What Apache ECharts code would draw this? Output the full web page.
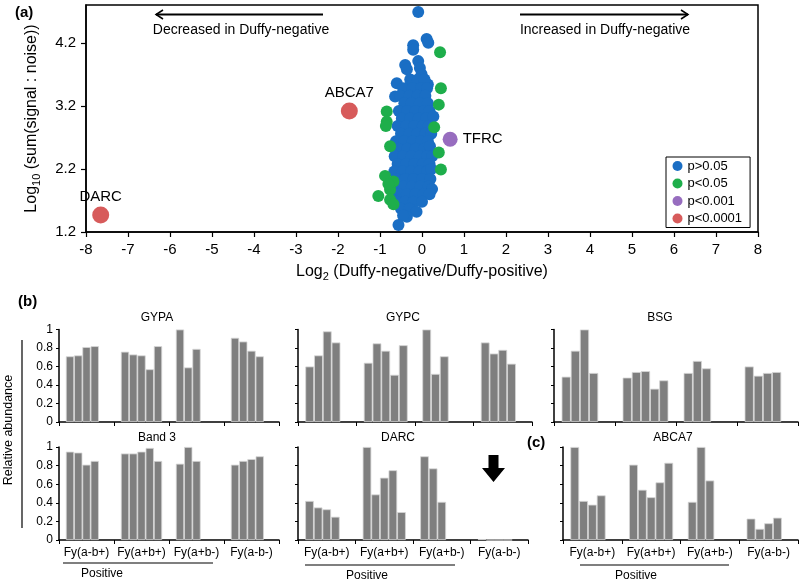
<!DOCTYPE html>
<html>
<head>
<meta charset="utf-8">
<script src="https://cdn.jsdelivr.net/npm/echarts@6/dist/echarts.min.js"></script>
<style>
  html, body { margin: 0; padding: 0; background: #fff; }
  #chart { width: 799px; height: 581px; }
</style>
</head>
<body>
<div id="chart"></div>
<script>
// ---- panel (a): volcano-like scatter ----
const bluePts = [
  [-0.09, 4.69], [0.11, 4.26], [0.15, 4.20], [-0.21, 4.16], [-0.21, 4.09],
  [-0.40, 3.85], [-0.36, 3.78], [-0.09, 3.91], [-0.05, 3.80], [-0.01, 3.70],
  [-0.60, 3.56], [-0.33, 3.49], [0.14, 3.54], [-0.64, 3.35],
  [-0.28, 3.62], [-0.10, 3.62], [0.06, 3.62],
  [-0.45, 3.48], [-0.22, 3.48], [-0.02, 3.48], [0.12, 3.48],
  [-0.52, 3.36], [-0.30, 3.36], [-0.10, 3.36], [0.08, 3.36],
  [-0.42, 3.24], [-0.25, 3.24], [-0.05, 3.24], [0.14, 3.24],
  [-0.55, 3.12], [-0.35, 3.12], [-0.15, 3.12], [0.05, 3.12], [0.18, 3.12],
  [-0.48, 3.00], [-0.28, 3.00], [-0.08, 3.00], [0.10, 3.00], [0.27, 3.03],
  [-0.58, 2.88], [-0.38, 2.88], [-0.18, 2.88], [0.02, 2.88], [0.16, 2.88],
  [-0.50, 2.76], [-0.30, 2.76], [-0.12, 2.76], [0.08, 2.76], [0.22, 2.76],
  [-0.62, 2.64], [-0.42, 2.64], [-0.22, 2.64], [-0.02, 2.64], [0.14, 2.64],
  [-0.55, 2.52], [-0.35, 2.52], [-0.15, 2.52], [0.05, 2.52], [0.19, 2.56],
  [-0.65, 2.40], [-0.45, 2.40], [-0.25, 2.40], [-0.05, 2.40], [0.12, 2.40], [0.24, 2.40],
  [-0.58, 2.28], [-0.38, 2.28], [-0.18, 2.28], [0.02, 2.28], [0.18, 2.28],
  [-0.66, 2.16], [-0.46, 2.16], [-0.26, 2.16], [-0.06, 2.16], [0.12, 2.16], [0.22, 2.20],
  [-0.60, 2.04], [-0.40, 2.04], [-0.20, 2.04], [0.00, 2.04], [0.20, 2.04],
  [-0.62, 1.92], [-0.44, 1.92], [-0.24, 1.92], [-0.04, 1.92], [0.16, 1.92], [0.24, 1.88],
  [-0.55, 1.80], [-0.36, 1.80], [-0.16, 1.80], [0.04, 1.80], [0.18, 1.80],
  [-0.60, 1.68], [-0.40, 1.68], [-0.20, 1.68], [0.00, 1.68],
  [-0.50, 1.57], [-0.30, 1.57], [-0.13, 1.52],
  [-0.36, 1.44], [-0.45, 1.46], [-0.56, 1.31]
];
const greenPts = [
  [0.43, 4.05], [0.45, 3.48], [0.40, 3.22], [0.29, 2.86], [0.40, 2.46], [0.45, 2.19],
  [-0.84, 3.11], [-0.84, 2.95], [-0.86, 2.88], [-0.76, 2.56], [-0.88, 2.09],
  [-0.68, 2.00], [-0.76, 1.87], [-1.04, 1.77], [-0.76, 1.71], [-0.68, 1.64], [-0.80, 1.96]
];
const purplePts = [[0.67, 2.67]];
const purpleNames = ['TFRC'];
const redPts = [[-7.65, 1.47], [-1.73, 3.12]];
const redNames = ['DARC', 'ABCA7'];
const pLevels = ['p>0.05', 'p<0.05', 'p<0.001', 'p<0.0001'];

// ---- panels (b),(c): relative abundance per donor, grouped by phenotype ----
const groups = ['Fy(a-b+)', 'Fy(a+b+)', 'Fy(a+b-)', 'Fy(a-b-)'];
const gypaVals = [[0.71, 0.72, 0.81, 0.82], [0.76, 0.73, 0.72, 0.57, 0.82], [1.0, 0.59, 0.79], [0.91, 0.87, 0.77, 0.71]];
const gypcVals = [[0.60, 0.72, 0.98, 0.86], [0.64, 0.85, 0.77, 0.51, 0.83], [1.0, 0.52, 0.71], [0.86, 0.74, 0.78, 0.63]];
const bsgVals  = [[0.49, 0.77, 1.0, 0.53], [0.48, 0.54, 0.55, 0.36, 0.45], [0.53, 0.66, 0.58], [0.60, 0.50, 0.53, 0.54]];
const band3Vals = [[0.95, 0.94, 0.81, 0.85], [0.93, 0.93, 0.95, 0.99, 0.85], [0.82, 1.0, 0.85], [0.81, 0.85, 0.87, 0.90]];
const darcVals = [[0.42, 0.35, 0.33, 0.25], [1.0, 0.49, 0.67, 0.75, 0.30], [0.90, 0.77, 0.41], [0.01, 0, 0, 0]];
const abca7Vals = [[1.0, 0.42, 0.38, 0.48], [0.81, 0.54, 0.46, 0.62, 0.83], [0.41, 1.0, 0.64], [0.23, 0.12, 0.18, 0.24]];

const FONT = 'Liberation Sans, Arial, sans-serif';
const BAR = '#7f7f7f';
const colors = ['#1a6ec4', '#1eae4b', '#976dbf', '#d75b5b'];

const chart = echarts.init(document.getElementById('chart'));

const grids = [{ left: 86, top: 5, width: 672, height: 227, show: true, borderColor: '#000', borderWidth: 1.5 }];
const xAxes = [{
  gridIndex: 0, type: 'value', min: -8, max: 8, interval: 1,
  axisLine: { onZero: false, lineStyle: { color: '#000', width: 1.5 } },
  axisTick: { length: 5, lineStyle: { color: '#000', width: 1.2 } },
  axisLabel: { color: '#000', fontSize: 15, fontFamily: FONT, margin: 10 },
  splitLine: { show: false },
  name: 'Log{s|2} (Duffy-negative/Duffy-positive)', nameLocation: 'middle', nameGap: 30,
  nameTextStyle: { color: '#000', fontSize: 16, fontFamily: FONT, rich: { s: { fontSize: 11, fontFamily: FONT, padding: [9, 0, 0, 0] } } }
}];
const yAxes = [{
  gridIndex: 0, type: 'value', min: 1.2, max: 4.8, interval: 1,
  axisLine: { onZero: false, lineStyle: { color: '#000', width: 1.5 } },
  axisTick: { length: 5, lineStyle: { color: '#000', width: 1.2 } },
  axisLabel: { color: '#000', fontSize: 15, fontFamily: FONT, margin: 10, showMaxLabel: false,
    formatter: v => (Math.round(v * 10) / 10).toFixed(1) },
  splitLine: { show: false },
  name: 'Log{s|10} (sum(signal : noise))', nameLocation: 'middle', nameGap: 44,
  nameTextStyle: { color: '#000', fontSize: 16, fontFamily: FONT, rich: { s: { fontSize: 11, fontFamily: FONT, padding: [9, 0, 0, 0] } } }
}];

const series = [
  { name: pLevels[0], type: 'scatter', data: bluePts, symbolSize: 12, itemStyle: { color: colors[0], opacity: 1 } },
  { name: pLevels[1], type: 'scatter', data: greenPts, symbolSize: 12, itemStyle: { color: colors[1], opacity: 1 } },
  { name: pLevels[2], type: 'scatter', symbolSize: 15, itemStyle: { color: colors[2], opacity: 1 },
    data: purplePts.map((p, i) => ({ value: p, name: purpleNames[i] })),
    label: { show: true, position: 'right', distance: 5, formatter: '{b}', color: '#000', fontSize: 15, fontFamily: FONT } },
  { name: pLevels[3], type: 'scatter', symbolSize: 17, itemStyle: { color: colors[3], opacity: 1 },
    data: redPts.map((p, i) => ({ value: p, name: redNames[i] })),
    label: { show: true, position: 'top', distance: 2, formatter: '{b}', color: '#000', fontSize: 15, fontFamily: FONT } }
];

const panels = [
  { vals: gypaVals,  box: [59, 329.5, 220, 92.5],  yLab: true,  xLab: false },
  { vals: gypcVals,  box: [298, 329.5, 234, 92.5], yLab: false, xLab: false },
  { vals: bsgVals,   box: [554, 329.5, 244, 92.5], yLab: false, xLab: false },
  { vals: band3Vals, box: [59, 447, 220, 93],      yLab: true,  xLab: true },
  { vals: darcVals,  box: [298, 447, 230, 93],     yLab: false, xLab: true },
  { vals: abca7Vals, box: [563, 447, 235, 93],     yLab: false, xLab: true }
];
const panelTitles = [['GYPA', 157, 318], ['GYPC', 403, 318], ['BSG', 660, 318],
                     ['Band 3', 157, 438], ['DARC', 398, 438], ['ABCA7', 673, 438]];

panels.forEach((p, i) => {
  const gi = i + 1;
  grids.push({ left: p.box[0], top: p.box[1], width: p.box[2], height: p.box[3] });
  xAxes.push({
    gridIndex: gi, type: 'category', data: groups,
    axisLine: { lineStyle: { color: '#000', width: 1.5 } },
    axisTick: { show: true, length: 4, interval: 0, lineStyle: { color: '#000' } },
    axisLabel: { show: p.xLab, interval: 0, color: '#000', fontSize: 12, fontFamily: FONT, margin: 7 }
  });
  yAxes.push({
    gridIndex: gi, type: 'value', min: 0, max: 1, interval: 0.2,
    axisLine: { show: true, lineStyle: { color: '#000', width: 1.5 } },
    axisTick: { show: true, length: 3, lineStyle: { color: '#000' } },
    axisLabel: { show: p.yLab, color: '#000', fontSize: 12, fontFamily: FONT, margin: 6 },
    splitLine: { show: false }
  });
  for (let k = 0; k < 5; k++) {
    series.push({
      type: 'bar', xAxisIndex: gi, yAxisIndex: gi, silent: true,
      data: p.vals.map(g => (g[k] === undefined ? '-' : g[k])),
      barGap: '0%', barCategoryGap: '25%',
      itemStyle: { color: BAR, borderColor: '#d6d6d6', borderWidth: 0.8 }
    });
  }
});

const txt = (text, x, y, size, extra, rot) => ({
  type: 'text', x, y, rotation: rot || 0, silent: true,
  style: Object.assign({ text, fill: '#000', fontSize: size, fontFamily: FONT, align: 'center', verticalAlign: 'middle' }, extra || {})
});
const ln = (x1, y1, x2, y2, w) => ({
  type: 'line', silent: true, shape: { x1, y1, x2, y2 }, style: { stroke: '#000', lineWidth: w || 1.2 }
});
const head = (pts) => ({ type: 'polyline', silent: true, shape: { points: pts }, style: { stroke: '#000', lineWidth: 1.5, fill: null } });

const graphics = [
  txt('(a)', 15, 13, 15, { align: 'left', fontWeight: 'bold' }),
  txt('(b)', 18, 302, 15, { align: 'left', fontWeight: 'bold' }),
  txt('(c)', 527, 443, 15, { align: 'left', fontWeight: 'bold' }),
  // direction arrows
  ln(156, 14.5, 323, 14.5, 2), head([[163, 10], [156, 14.5], [163, 19]]),
  ln(520, 14.5, 688, 14.5, 2), head([[681, 10], [688, 14.5], [681, 19]]),
  txt('Decreased in Duffy-negative', 241, 30, 14),
  txt('Increased in Duffy-negative', 605, 30, 14),
  // shared y title for bar panels
  txt('Relative abundance', 9, 430, 12.5, null, Math.PI / 2),
  ln(22, 340, 22, 528, 1.2),
  // "Positive" brackets
  ln(63, 563, 213, 563, 1.2), txt('Positive', 102, 574, 12),
  ln(305, 565, 455, 565, 1.2), txt('Positive', 367, 576, 12),
  ln(580, 565, 729, 565, 1.2), txt('Positive', 636, 576, 12),
  // DARC absent in Fy(a-b-)
  { type: 'polygon', silent: true,
    shape: { points: [[488.5, 455], [498.5, 455], [498.5, 468], [505, 468], [493.5, 482], [482, 468], [488.5, 468]] },
    style: { fill: '#000' } }
];
panelTitles.forEach(t => graphics.push(txt(t[0], t[1], t[2], 12)));

chart.setOption({
  animation: false,
  textStyle: { fontFamily: FONT },
  grid: grids,
  xAxis: xAxes,
  yAxis: yAxes,
  legend: {
    data: pLevels, orient: 'vertical', left: 666, top: 157,
    icon: 'circle', itemWidth: 10, itemHeight: 10, itemGap: 2.5,
    padding: [1.5, 8, 1.5, 6.5], borderColor: '#000', borderWidth: 1,
    textStyle: { color: '#000', fontSize: 13, fontFamily: FONT, lineHeight: 15 }
  },
  graphic: graphics,
  series: series
});
</script>
</body>
</html>
